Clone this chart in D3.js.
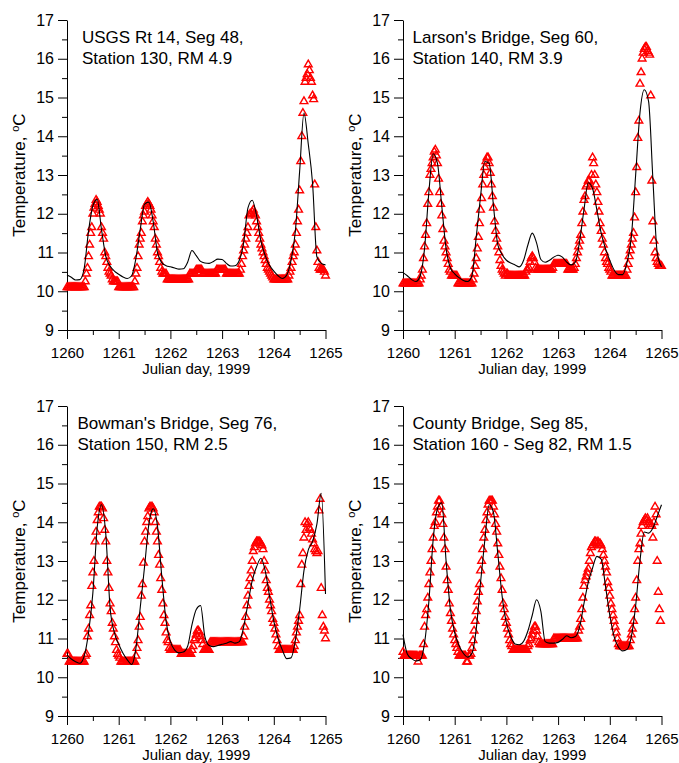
<!DOCTYPE html>
<html><head><meta charset="utf-8">
<script src="https://cdn.jsdelivr.net/npm/d3@7"></script>
<style>body{margin:0;background:#fff}</style>
</head><body>
<svg id="c" width="679" height="763" style="background:#fff"></svg>
<script>
// ---------- DATA ----------
const xTicks = [1260, 1261, 1262, 1263, 1264, 1265];
const xMinor = [1260.5, 1261.5, 1262.5, 1263.5, 1264.5];
const yTicks = [9, 10, 11, 12, 13, 14, 15, 16, 17];
const yMinor = [9.5, 10.5, 11.5, 12.5, 13.5, 14.5, 15.5, 16.5];
const xLabel = "Julian day, 1999";
const yLabel = "Temperature, ";

const titles = [
  ["USGS Rt 14, Seg 48,", "Station 130, RM 4.9"],
  ["Larson's Bridge, Seg 60,", "Station 140, RM 3.9"],
  ["Bowman's Bridge, Seg 76,", "Station 150, RM 2.5"],
  ["County Bridge, Seg 85,", "Station 160 - Seg 82, RM 1.5"]
];

// Observed, every half hour from day 1260.0
const obsRt14 = [
  10.1,10.1,10.1,10.1,10.1,10.1,10.1,10.1,10.1,10.1,10.1,10.1,10.1,10.1,10.1,10.1,10.1,
  10.25,10.45,10.6,10.9,11.2,11.5,11.65,12.0,12.15,12.25,12.35,
  12.3,12.2,12.1,12.0,11.65,11.5,11.35,11.0,10.9,10.75,10.6,10.5,10.45,10.4,10.3,
  10.25,10.25,10.25,10.25,10.25,
  10.1,10.1,10.1,10.1,10.1,10.1,10.1,10.1,10.1,10.1,10.1,10.1,10.1,10.1,10.1,
  10.25,10.45,10.6,10.9,11.2,11.35,11.5,11.8,11.95,12.05,12.2,12.25,12.3,12.25,12.2,12.1,11.95,11.8,11.65,11.35,11.2,11.0,10.9,10.75,10.6,10.5,10.45,
  10.45,10.45,10.45,10.3,10.3,10.3,
  10.3,10.3,10.3,10.3,10.3,10.3,10.3,10.3,10.3,10.3,10.3,10.3,10.3,10.3,10.3,10.3,10.3,10.3,
  10.45,10.45,10.45,10.45,10.45,10.45,
  10.55,10.55,10.55,10.55,10.55,10.55,
  10.45,10.45,10.45,10.45,10.45,10.45,10.45,10.45,10.45,10.45,10.45,10.45,10.45,
  10.55,10.55,10.55,10.55,10.55,
  10.55,10.55,10.55,10.55,
  10.45,10.45,10.45,10.45,10.45,10.45,10.45,10.45,10.45,10.45,10.45,10.45,
  10.45,10.55,10.7,10.9,11.05,11.2,11.35,11.5,11.65,11.95,12.0,12.0,12.05,12.1,12.0,11.95,11.8,11.65,11.5,11.35,11.2,11.1,11.0,10.9,10.8,10.7,10.6,10.55,10.5,10.45,10.4,10.35,
  10.3,10.3,10.3,10.3,10.3,10.3,10.3,10.3,10.3,10.3,10.3,10.3,10.3,10.3,
  10.4,10.5,10.6,10.75,10.9,11.0,11.2,11.5,11.8,12.1,12.6,13.35,14.0,14.6,14.9,15.4,15.5,15.6,15.85,15.7,15.5,15.4,15.05,14.95,12.75,11.65,11.05,10.75,10.6,10.55,10.55,10.55,10.55,10.5,10.4
];
const obsLarson = [
  10.2,10.2,10.2,10.2,10.2,10.2,10.2,10.2,10.2,10.2,10.2,10.2,10.2,10.2,10.2,10.2,
  10.3,10.4,10.55,10.85,11.15,11.45,11.75,12.25,12.55,13.0,13.15,13.3,13.45,13.6,13.65,13.5,13.3,12.9,12.55,12.25,11.95,11.6,11.3,11.15,11.0,10.85,10.7,10.55,10.5,10.4,10.4,10.4,
  10.4,10.4,10.4,
  10.2,10.2,10.2,10.2,10.2,10.2,10.2,10.2,10.2,10.2,10.2,10.2,10.2,10.2,
  10.3,10.45,10.65,10.85,11.1,11.4,11.75,12.1,12.4,12.75,13.0,13.2,13.35,13.45,13.45,13.3,13.05,12.75,12.45,12.15,11.8,11.55,11.35,11.15,11.0,10.8,10.65,10.55,10.5,10.45,10.4,
  10.45,10.45,
  10.4,10.4,10.4,10.4,10.4,10.4,10.4,10.4,10.4,10.4,10.4,10.4,10.4,10.4,10.4,10.4,
  10.5,10.55,10.55,10.6,10.75,10.85,10.9,10.85,10.75,10.6,
  10.55,10.55,10.55,10.55,10.55,10.55,10.55,10.55,10.55,10.55,10.55,10.55,10.55,10.55,10.55,
  10.6,10.7,10.7,10.7,10.7,
  10.7,10.7,10.7,10.7,10.7,10.7,10.7,10.7,10.7,
  10.55,10.55,10.55,10.55,10.55,
  10.55,10.6,10.7,10.85,11.0,11.15,11.3,11.45,11.75,12.05,12.35,12.45,12.7,12.75,12.85,12.85,12.7,13.0,13.45,13.3,13.0,12.75,12.55,12.3,12.05,11.75,11.55,11.35,11.2,11.0,10.85,10.75,10.7,10.6,
  10.55,10.5,
  10.4,10.4,10.4,10.4,10.4,10.4,10.4,10.4,10.4,10.4,10.4,10.4,10.4,10.4,
  10.55,10.7,10.9,11.05,11.2,11.35,11.5,11.9,12.55,13.2,13.95,14.4,15.35,15.65,16.0,16.15,16.25,16.3,16.3,16.2,16.15,16.1,15.05,12.85,11.8,11.3,11.0,10.85,10.75,10.7,10.65,10.65,10.65
];
const obsBowman = [
  10.6,10.6,
  10.4,10.4,10.4,10.4,10.4,10.4,10.4,10.4,10.4,10.4,10.4,10.4,10.4,10.4,10.4,
  10.55,10.6,11.05,11.25,11.6,11.85,12.35,12.7,13.0,13.5,13.75,14.05,14.25,14.4,14.4,14.4,14.35,14.1,13.8,13.5,13.0,12.7,12.3,11.9,11.7,11.4,11.25,11.05,10.9,10.7,10.6,
  10.55,10.5,
  10.4,10.4,10.4,10.4,10.4,10.4,10.4,10.4,10.4,10.4,10.4,10.4,10.4,10.4,
  10.55,10.75,10.95,11.3,11.55,12.1,12.4,12.95,13.5,13.75,14.0,14.15,14.35,14.4,14.4,14.4,14.35,14.25,14.0,13.75,13.5,13.15,12.9,12.55,12.25,11.9,11.6,11.4,11.15,10.95,10.9,10.75,
  10.7,10.7,10.7,10.7,10.7,10.7,10.7,10.7,10.7,10.7,
  10.6,10.6,10.6,10.6,10.6,10.6,10.6,10.6,10.6,10.6,
  10.7,10.8,10.95,11.0,11.1,11.2,11.2,11.15,11.05,10.95,10.85,
  10.7,10.7,10.7,10.7,10.7,10.7,
  10.9,10.9,10.9,10.9,10.9,10.9,10.9,10.9,10.9,10.9,10.9,
  10.9,10.9,10.9,10.9,10.9,10.9,10.9,10.9,10.9,10.9,10.9,10.9,10.9,10.9,10.9,10.9,10.9,10.9,10.9,10.9,
  11.05,11.3,11.55,11.85,12.1,12.35,12.55,12.75,13.0,13.25,13.35,13.45,13.5,13.5,13.5,13.5,13.45,13.4,13.3,13.0,12.75,12.5,12.3,12.2,12.0,11.85,11.7,11.5,
  11.4,11.25,11.1,10.95,10.8,
  10.7,10.7,10.7,10.7,10.7,10.7,10.7,10.7,10.7,10.7,10.7,10.7,10.7,10.7,
  10.8,10.95,11.15,11.3,11.45,11.6,12.4,12.9,13.2,13.6,14.0,13.8,13.95,14.0,13.85,13.8,13.7,13.55,13.45,13.3,13.25,13.2,13.25,14.3,14.6,12.3,11.6,11.3,11.2,11.0
];
const obsCounty = [
  10.65,
  10.55,10.55,10.55,10.55,10.55,10.55,10.55,10.55,10.55,10.55,10.55,10.55,10.55,
  10.4,10.55,10.55,10.55,10.55,
  10.85,11.3,11.6,11.75,12.05,12.4,12.7,13.0,13.3,13.6,13.9,14.0,14.25,14.4,14.55,14.55,14.4,14.2,13.95,13.6,13.3,12.85,12.5,12.25,11.9,11.65,11.45,11.25,11.1,
  10.95,10.85,10.75,10.65,
  10.55,10.55,10.55,10.55,10.55,10.55,10.55,
  10.4,10.4,10.55,10.55,
  10.6,10.75,10.95,11.2,11.45,11.7,11.95,12.2,12.4,12.75,13.0,13.3,13.6,13.8,14.05,14.25,14.45,14.55,14.55,14.55,14.55,14.4,14.2,13.95,13.75,13.45,13.15,12.85,12.55,12.25,11.9,11.75,11.55,
  11.4,11.25,11.1,10.95,10.85,10.8,
  10.7,10.7,10.7,10.7,10.7,10.7,10.7,10.7,10.7,10.7,10.7,10.7,10.7,10.7,
  10.8,10.85,10.95,11.0,11.1,11.2,11.3,11.3,11.2,11.05,10.9,
  10.85,10.85,10.85,10.85,10.85,10.85,10.85,10.85,10.85,10.85,10.85,10.85,10.85,
  11.0,11.0,11.0,11.0,
  11.0,11.0,11.0,11.0,11.0,11.0,11.0,11.0,11.0,11.0,11.0,11.0,11.0,11.0,11.0,11.0,11.0,11.0,11.0,
  11.2,11.3,11.5,11.75,12.05,12.35,12.5,12.6,12.7,12.8,13.0,13.2,13.35,13.4,13.45,13.5,13.5,13.45,13.5,13.45,13.45,13.4,13.3,13.15,13.0,12.85,12.7,12.45,12.3,
  12.1,11.9,11.75,11.6,11.45,11.3,11.15,11.0,10.85,
  10.8,10.8,10.8,10.8,10.8,10.8,10.8,10.8,10.8,10.8,
  10.95,11.1,11.25,11.45,11.75,12.05,12.5,13.0,13.3,13.45,13.7,13.9,14.0,14.05,14.1,14.05,14.1,14.0,13.9,13.95,13.9,13.6,14.0,14.4,14.2,13.0,12.2,11.75,11.45
];

// Model, every two hours from day 1260.0
const modelRt14 = [
  10.42,10.36,10.29,10.3,10.6,11.55,12.2,12.37,11.6,10.9,10.65,10.52,
  10.44,10.37,10.33,10.4,10.85,11.6,12.25,12.3,11.8,11.0,10.74,10.66,
  10.63,10.6,10.57,10.58,10.75,11.05,10.92,10.77,10.73,10.72,10.77,10.83,
  10.82,10.72,10.65,10.66,10.8,11.25,12.15,12.35,11.95,11.3,10.92,10.67,
  10.52,10.4,10.33,10.42,10.8,11.55,13.1,14.6,13.8,12.78,10.89,10.72,
  10.68
];
const modelLarson = [
  10.48,10.4,10.3,10.25,10.4,11.1,12.55,13.55,13.3,12.2,11.1,10.6,
  10.45,10.35,10.28,10.25,10.4,11.4,12.45,13.35,13.3,12.2,11.2,10.95,
  10.8,10.73,10.68,10.63,10.8,11.2,11.5,11.25,10.82,10.75,10.8,10.88,
  10.93,10.88,10.75,10.68,10.75,11.3,12.1,12.8,12.65,12.1,11.5,11.1,
  10.8,10.55,10.43,10.43,10.75,11.4,13.0,14.6,15.2,14.9,12.9,11.0,
  10.63
];
const modelBowman = [
  10.57,10.47,10.4,10.36,10.55,11.15,12.17,13.85,14.45,13.7,11.8,11.15,
  10.85,10.62,10.45,10.33,10.75,11.8,12.85,13.95,14.35,13.9,12.6,11.45,
  10.92,10.7,10.63,10.65,10.8,11.35,11.75,11.85,11.05,10.82,10.79,10.82,
  10.85,10.88,10.92,10.88,10.92,11.3,11.9,12.5,12.85,13.07,12.75,12.1,
  11.45,11.0,10.7,10.48,10.5,10.95,11.75,12.75,13.28,13.5,13.95,14.75,
  12.15
];
const modelCounty = [
  11.1,10.6,10.48,10.42,10.45,10.88,11.95,13.55,14.35,14.5,13.0,11.75,
  11.15,10.82,10.62,10.52,10.62,11.25,12.45,13.55,14.45,14.25,13.2,12.1,
  11.4,11.05,10.86,10.84,10.93,11.2,11.6,12.0,11.7,10.92,10.88,10.88,
  10.9,10.98,11.07,11.02,11.05,11.3,11.9,12.45,12.82,13.12,13.05,12.35,
  11.6,11.05,10.78,10.68,10.72,11.05,11.85,13.0,13.75,13.72,13.85,14.15,
  14.45
];

const observed = [obsRt14, obsLarson, obsBowman, obsCounty];
const modeled = [modelRt14, modelLarson, modelBowman, modelCounty];

// ---------- LAYOUT ----------
const layout = [
  {x0: 67, y0: 20, titleDx: 15},
  {x0: 403, y0: 20, titleDx: 9.5},
  {x0: 67, y0: 406, titleDx: 10.5},
  {x0: 403, y0: 406, titleDx: 9.5}
];
const W = 258.5, H = 310;
const FONT = "Arial, 'Liberation Sans', Helvetica, sans-serif";

const svg = d3.select("#c");
svg.append("rect").attr("width", 679).attr("height", 763).attr("fill", "#fff");

layout.forEach((L, k) => {
  const x = d3.scaleLinear().domain([1260, 1265]).range([L.x0, L.x0 + W]);
  const y = d3.scaleLinear().domain([9, 17]).range([L.y0 + H, L.y0]);
  const g = svg.append("g");

  // minor ticks
  g.append("g").attr("transform", `translate(${L.x0},0)`)
    .call(d3.axisLeft(y).tickValues(yMinor).tickSize(5).tickFormat("").tickSizeOuter(0))
    .call(s => s.select(".domain").remove());
  g.append("g").attr("transform", `translate(0,${L.y0 + H})`)
    .call(d3.axisBottom(x).tickValues(xMinor).tickSize(5).tickFormat("").tickSizeOuter(0))
    .call(s => s.select(".domain").remove());

  // major axes
  const ya = g.append("g").attr("transform", `translate(${L.x0},0)`)
    .call(d3.axisLeft(y).tickValues(yTicks).tickSize(9).tickPadding(4).tickSizeOuter(0).tickFormat(d3.format("d")));
  ya.attr("font-size", 16).attr("font-family", FONT);
  const xa = g.append("g").attr("transform", `translate(0,${L.y0 + H})`)
    .call(d3.axisBottom(x).tickValues(xTicks).tickSize(9).tickPadding(8).tickSizeOuter(0).tickFormat(d3.format("d")));
  xa.attr("font-size", 15).attr("font-family", FONT);
  g.selectAll(".tick line, .domain").attr("stroke", "#000");
  g.selectAll(".tick text").attr("fill", "#000");

  // axis titles
  g.append("text")
    .attr("x", x(1262.5)).attr("y", L.y0 + H + 44)
    .attr("text-anchor", "middle").attr("font-size", 15).attr("font-family", FONT)
    .text(xLabel);
  const yt = g.append("text")
    .attr("transform", `translate(${L.x0 - 42.3},${L.y0 + H / 2}) rotate(-90)`)
    .attr("text-anchor", "middle").attr("font-size", 17).attr("font-family", FONT);
  yt.append("tspan").text(yLabel);
  yt.append("tspan").attr("font-size", 11).attr("dy", -6).text("o");
  yt.append("tspan").attr("dy", 6).text("C");

  // panel title
  const tt = g.append("text").attr("font-size", 17).attr("font-family", FONT);
  titles[k].forEach((line, j) => {
    tt.append("tspan").attr("x", L.x0 + L.titleDx).attr("y", L.y0 + 23 + j * 21).text(line);
  });

  // observed triangles
  const obs = observed[k].map((v, i) => ({t: 1260 + i / 48, v}));
  const tri = d3.symbol().type(d3.symbolTriangle).size(26);
  g.append("g").selectAll("path").data(obs).join("path")
    .attr("d", tri)
    .attr("transform", d => `translate(${x(d.t)},${y(d.v)})`)
    .attr("fill", "none").attr("stroke", "#ff0000").attr("stroke-width", 1.4);

  // model line
  const mod = modeled[k].map((v, i) => ({t: 1260 + i / 12, v}));
  g.append("path").datum(mod)
    .attr("d", d3.line().x(d => x(d.t)).y(d => y(d.v)).curve(d3.curveMonotoneX))
    .attr("fill", "none").attr("stroke", "#000").attr("stroke-width", 1.1);
});
</script>
</body></html>
